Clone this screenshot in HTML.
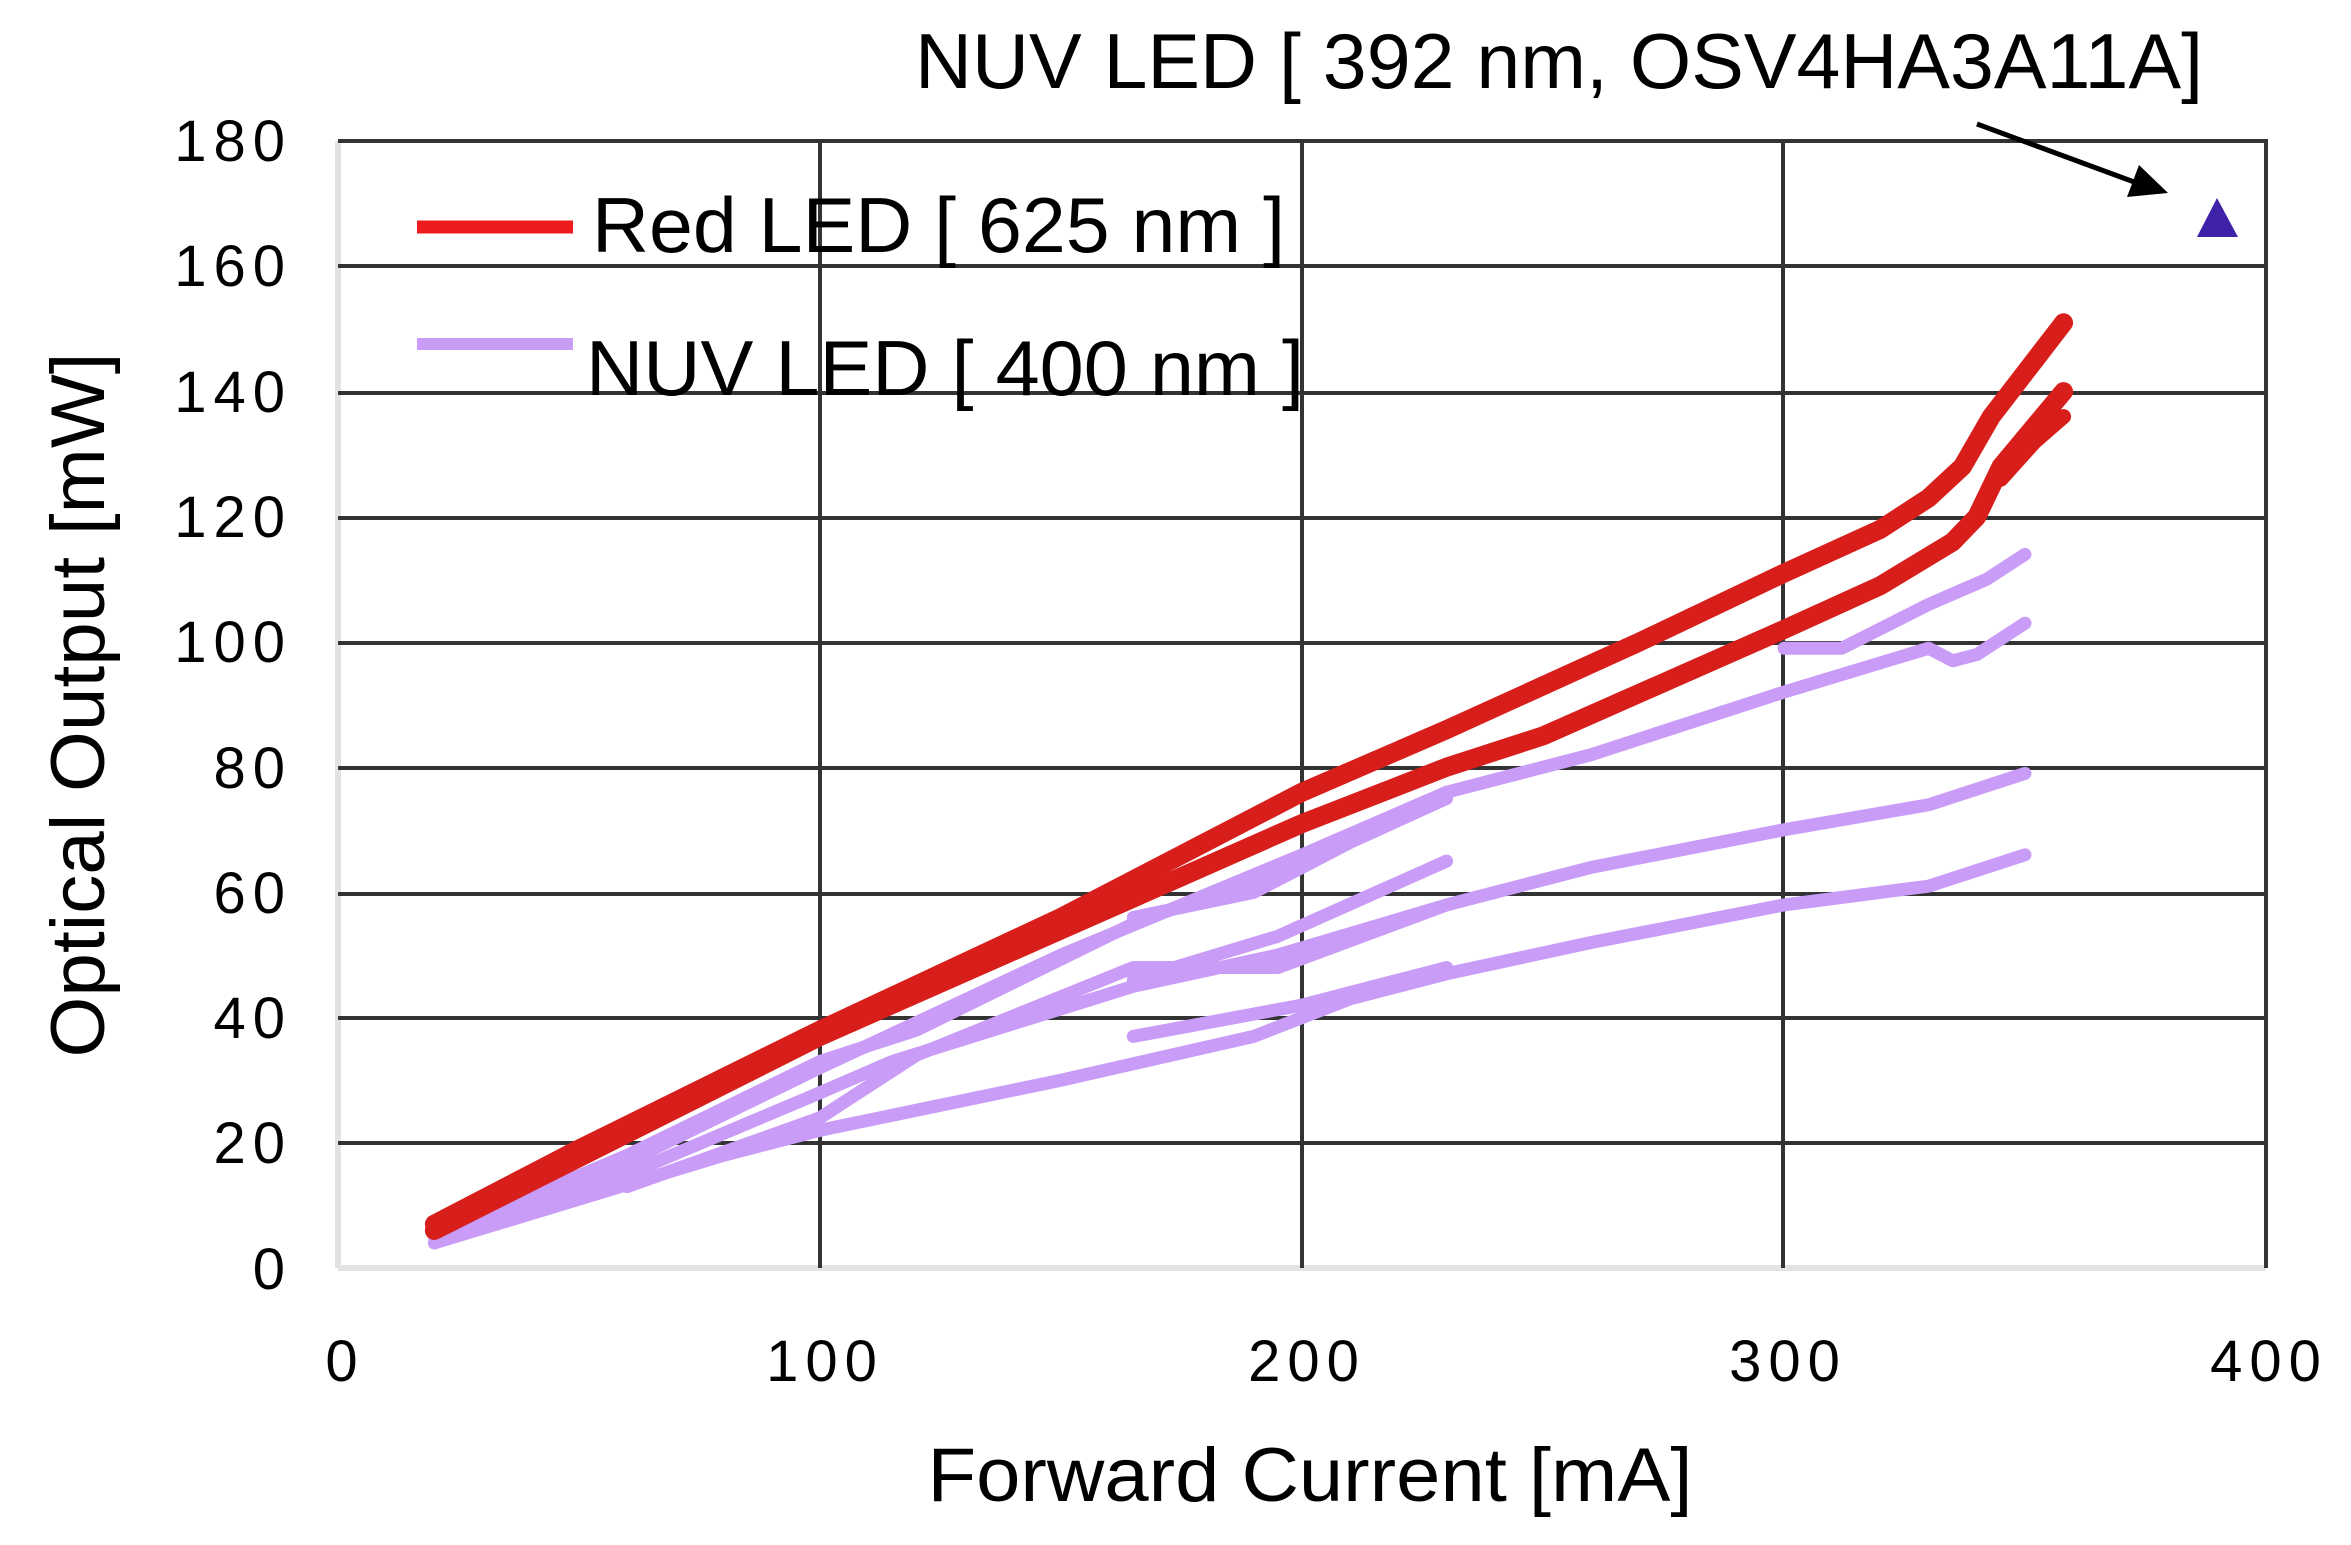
<!DOCTYPE html>
<html><head><meta charset="utf-8"><style>
html,body{margin:0;padding:0;background:#fff;}
svg{display:block;}
text{font-family:"Liberation Sans",Arial,sans-serif;fill:#000;}
.t{font-size:58px;letter-spacing:7px;fill:#222;}
</style></head><body>
<svg width="2351" height="1545" viewBox="0 0 2351 1545" xmlns="http://www.w3.org/2000/svg">
<rect width="2351" height="1545" fill="#fff"/>
<line x1="338" y1="141" x2="338" y2="1268" stroke="#e2e2e2" stroke-width="6"/>
<line x1="338" y1="1268" x2="2266" y2="1268" stroke="#e2e2e2" stroke-width="6"/>
<g stroke="#333" stroke-width="4">
<line x1="338" y1="141" x2="2266" y2="141"/>
<line x1="338" y1="266" x2="2266" y2="266"/>
<line x1="338" y1="393" x2="2266" y2="393"/>
<line x1="338" y1="518" x2="2266" y2="518"/>
<line x1="338" y1="643" x2="2266" y2="643"/>
<line x1="338" y1="768" x2="2266" y2="768"/>
<line x1="338" y1="894" x2="2266" y2="894"/>
<line x1="338" y1="1018" x2="2266" y2="1018"/>
<line x1="338" y1="1143" x2="2266" y2="1143"/>
<line x1="820" y1="141" x2="820" y2="1268"/>
<line x1="1302" y1="141" x2="1302" y2="1268"/>
<line x1="1783" y1="141" x2="1783" y2="1268"/>
<line x1="2266" y1="139" x2="2266" y2="1268"/>
</g>
<g class="t" text-anchor="end">
<text x="292" y="161">180</text>
<text x="292" y="286">160</text>
<text x="292" y="412">140</text>
<text x="292" y="537">120</text>
<text x="292" y="662">100</text>
<text x="292" y="788">80</text>
<text x="292" y="913">60</text>
<text x="292" y="1038">40</text>
<text x="292" y="1163">20</text>
<text x="292" y="1289">0</text>
</g>
<g class="t" text-anchor="middle">
<text x="345" y="1381">0</text>
<text x="825" y="1381">100</text>
<text x="1307" y="1381">200</text>
<text x="1788" y="1381">300</text>
<text x="2269" y="1381">400</text>
</g>
<g transform="matrix(4.82 0 0 -6.26 338 1268)" fill="none" stroke-linecap="round" stroke-linejoin="round">
<g stroke="#c99cf8">
<path vector-effect="non-scaling-stroke" stroke-width="13" d="M20,4 L60,17 L100,32 L150,50 L200,66 L230,76 L260,82 L300,92 L330,99 L335,97 L340,98 L350,103"/>
<path vector-effect="non-scaling-stroke" stroke-width="13" d="M300,99 L312,99 L330,106 L342,110 L350,114"/>
<path vector-effect="non-scaling-stroke" stroke-width="13" d="M20,5 L60,15 L100,28 L115,33 L165,45 L195,50 L230,58 L260,64 L300,70 L330,74 L350,79"/>
<path vector-effect="non-scaling-stroke" stroke-width="13" d="M20,4 L80,18 L100,22 L150,30 L190,37 L210,43 L230,47 L260,52 L300,58 L330,61 L350,66"/>
<path vector-effect="non-scaling-stroke" stroke-width="13" d="M20,5 L60,18 L100,33 L120,38 L165,55 L200,65 L230,76"/>
<path vector-effect="non-scaling-stroke" stroke-width="13" d="M165,56 L190,60 L210,68 L230,75"/>
<path vector-effect="non-scaling-stroke" stroke-width="13" d="M165,37 L200,42 L230,48"/>
<path vector-effect="non-scaling-stroke" stroke-width="13" d="M165,46 L195,53 L230,65"/>
<path vector-effect="non-scaling-stroke" stroke-width="13" d="M60,13 L100,24 L120,34 L165,48 L195,48 L230,58"/>
</g>
<g stroke="#d81e1a">
<path vector-effect="non-scaling-stroke" stroke-width="19" d="M20,7 L50,19 L100,38 L150,56 L200,76 L230,86 L250,93 L270,100 L300,111 L320,118 L330,123 L337,128 L343,136 L352,145 L358,151"/>
<path vector-effect="non-scaling-stroke" stroke-width="19" d="M20,6 L100,37 L150,54 L200,71 L230,80 L250,85 L300,102 L320,109 L335,116 L340,120 L345,128 L358,140"/>
<path vector-effect="non-scaling-stroke" stroke-width="15" d="M345,126 L352,132 L358,136"/>
</g>
</g>
<line x1="417" y1="227" x2="573" y2="227" stroke="#ee1c1c" stroke-width="13"/>
<line x1="417" y1="344" x2="573" y2="344" stroke="#c99cf8" stroke-width="12"/>
<text x="592" y="252" font-size="78" textLength="693" lengthAdjust="spacingAndGlyphs">Red LED [ 625 nm ]</text>
<text x="586" y="395" font-size="78" textLength="718" lengthAdjust="spacingAndGlyphs">NUV LED [ 400 nm ]</text>
<text x="915" y="88" font-size="78" textLength="1288" lengthAdjust="spacingAndGlyphs">NUV LED [ 392 nm, OSV4HA3A11A]</text>
<line x1="1977" y1="124" x2="2145" y2="186" stroke="#000" stroke-width="5"/>
<polygon points="2168,193 2127,197 2139,165" fill="#000"/>
<polygon points="2217,198 2197,237 2238,237" fill="#3f22a8"/>
<text x="1310" y="1501" font-size="76" text-anchor="middle" textLength="765" lengthAdjust="spacingAndGlyphs">Forward Current [mA]</text>
<text transform="translate(104,705) rotate(-90)" font-size="76" text-anchor="middle" textLength="705" lengthAdjust="spacingAndGlyphs">Optical Output [mW]</text>
</svg>
</body></html>
